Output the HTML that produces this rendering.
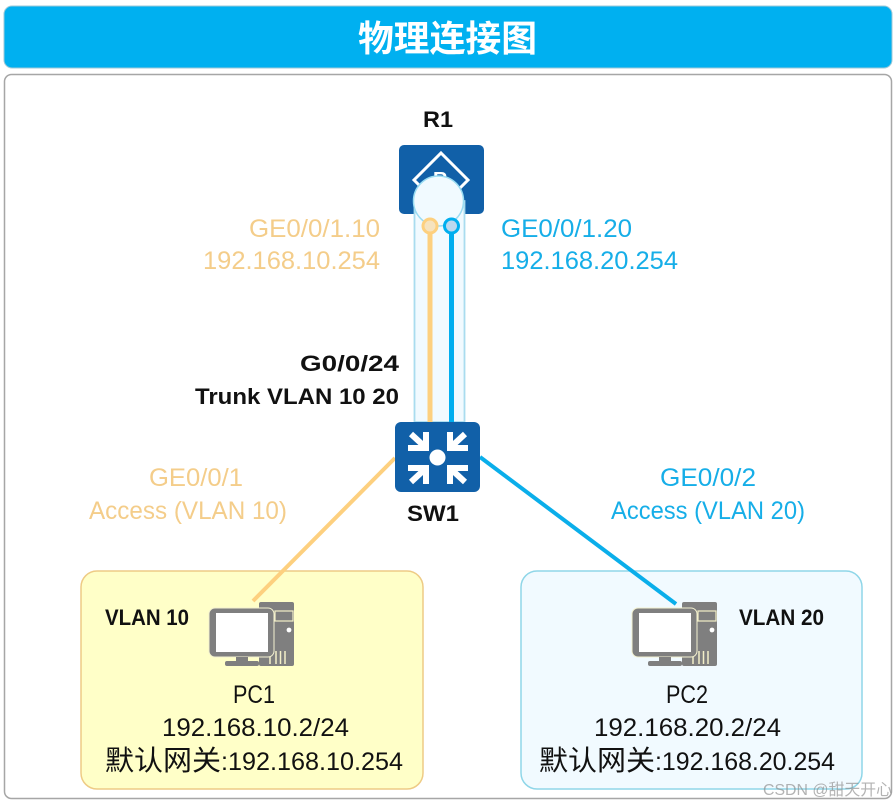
<!DOCTYPE html>
<html><head><meta charset="utf-8">
<style>
html,body{margin:0;padding:0;background:#fff}
svg{display:block}
text{font-family:"Liberation Sans","Noto Sans CJK SC",sans-serif}
.b{font-weight:700}
</style></head><body>
<svg width="896" height="804" viewBox="0 0 896 804" xmlns="http://www.w3.org/2000/svg">
<defs>
<g id="pc">
  <rect x="259" y="602" width="35" height="64" rx="2" fill="#7f7f7f"/>
  <rect x="275" y="611" width="18" height="10" fill="none" stroke="#f3efc8" stroke-width="1.2"/>
  <circle cx="289" cy="630" r="2.4" fill="#fff"/>
  <g stroke="#f3efc8" stroke-width="1.5"><path d="M270 654V664M276 651V664M280.500 651V664M285 651V664"/></g>
  <rect x="209" y="608" width="65" height="49" rx="6" fill="#7f7f7f" stroke="#f3f1d0" stroke-width="1"/>
  <rect x="216" y="613" width="52" height="39" fill="#fff"/>
  <rect x="236" y="657" width="12" height="5" fill="#7f7f7f"/>
  <rect x="225" y="661" width="34" height="5" rx="2" fill="#7f7f7f"/>
</g>
<g id="arr" fill="none" stroke="#fff" stroke-width="6">
  <path d="M-30 -10H-12V-26"/><path d="M-27 -24L-14 -12"/>
</g>
</defs>

<rect x="4" y="6" width="888" height="62" rx="8" fill="#00b0f0" stroke="#9ec9d8" stroke-width="1"/>
<text x="358" y="51" font-size="36" class="b" fill="#fff" textLength="179" lengthAdjust="spacingAndGlyphs">物理连接图</text>
<rect x="4.5" y="74.500" width="887" height="724" rx="7" fill="#fff" stroke="#a6a6a6" stroke-width="1.5"/>

<rect x="81" y="571" width="342" height="218" rx="16" fill="#ffffc8" stroke="#eecb85" stroke-width="1.5"/>
<rect x="521" y="571" width="341" height="218" rx="16" fill="#f1faff" stroke="#8fd6e8" stroke-width="1.5"/>

<!-- router -->
<rect x="399" y="145" width="85" height="69" rx="5" fill="#1160a8"/>
<path d="M441 153L468 180L441 207L414 180Z" fill="none" stroke="#fff" stroke-width="3"/>
<text x="433" y="186" font-size="20" class="b" fill="#fff">R</text>

<!-- tube -->
<path d="M414.500 422V201H464.500V422Z" fill="#f1faff" stroke="#a9dcef" stroke-width="1.8"/>
<circle cx="438.500" cy="201" r="25" fill="#f1faff" stroke="#9adcf2" stroke-width="1.5"/>
<rect x="427.500" y="226" width="5" height="197" fill="#fdd07f"/>
<rect x="449" y="226" width="5" height="197" fill="#00aeef"/>
<circle cx="430" cy="226" r="7" fill="#f6e3bf" stroke="#fdd07f" stroke-width="3"/>
<circle cx="451.500" cy="226" r="7" fill="#bcd8ef" stroke="#00aeef" stroke-width="3"/>

<!-- links -->
<line x1="395" y1="458" x2="253" y2="601" stroke="#fdd07f" stroke-width="4"/>
<line x1="480" y1="457" x2="676" y2="604" stroke="#0aaeea" stroke-width="4"/>

<!-- switch -->
<rect x="395" y="422" width="85" height="70" rx="6" fill="#1160a8"/>
<circle cx="437.500" cy="457.500" r="8" fill="#fff"/>
<use href="#arr" transform="translate(438 458)"/>
<use href="#arr" transform="translate(438 458) scale(-1 1)"/>
<use href="#arr" transform="translate(438 458) scale(1 -1)"/>
<use href="#arr" transform="translate(438 458) scale(-1 -1)"/>

<use href="#pc"/>
<use href="#pc" x="423"/>

<!-- labels -->
<g font-size="25">
<text x="423" y="127" font-size="22" class="b" fill="#111" textLength="30" lengthAdjust="spacingAndGlyphs">R1</text>
<g fill="#f4cd8a">
<text x="249" y="237" textLength="131" lengthAdjust="spacingAndGlyphs">GE0/0/1.10</text>
<text x="203" y="269" textLength="177" lengthAdjust="spacingAndGlyphs">192.168.10.254</text>
<text x="149" y="486" textLength="94" lengthAdjust="spacingAndGlyphs">GE0/0/1</text>
<text x="89" y="519" textLength="198" lengthAdjust="spacingAndGlyphs">Access (VLAN 10)</text>
</g>
<g fill="#16aee8">
<text x="501" y="237" textLength="131" lengthAdjust="spacingAndGlyphs">GE0/0/1.20</text>
<text x="501" y="269" textLength="177" lengthAdjust="spacingAndGlyphs">192.168.20.254</text>
<text x="660" y="486" textLength="96" lengthAdjust="spacingAndGlyphs">GE0/0/2</text>
<text x="611" y="519" textLength="194" lengthAdjust="spacingAndGlyphs">Access (VLAN 20)</text>
</g>
<g class="b" fill="#111" font-size="22">
<text x="300" y="371" textLength="99" lengthAdjust="spacingAndGlyphs">G0/0/24</text>
<text x="195" y="404" textLength="204" lengthAdjust="spacingAndGlyphs">Trunk VLAN 10 20</text>
<text x="407" y="521" textLength="52" lengthAdjust="spacingAndGlyphs">SW1</text>
<text x="105" y="625" textLength="84" lengthAdjust="spacingAndGlyphs">VLAN 10</text>
<text x="739" y="625" textLength="85" lengthAdjust="spacingAndGlyphs">VLAN 20</text>
</g>
<g fill="#111">
<text x="233" y="703" textLength="42" lengthAdjust="spacingAndGlyphs">PC1</text>
<text x="162" y="736" textLength="187" lengthAdjust="spacingAndGlyphs">192.168.10.2/24</text>
<text x="105" y="770" font-size="28" textLength="116" lengthAdjust="spacingAndGlyphs">默认网关</text>
<text x="221" y="770" textLength="182" lengthAdjust="spacingAndGlyphs">:192.168.10.254</text>
<text x="666" y="703" textLength="42" lengthAdjust="spacingAndGlyphs">PC2</text>
<text x="594" y="736" textLength="187" lengthAdjust="spacingAndGlyphs">192.168.20.2/24</text>
<text x="539" y="770" font-size="28" textLength="116" lengthAdjust="spacingAndGlyphs">默认网关</text>
<text x="655" y="770" textLength="180" lengthAdjust="spacingAndGlyphs">:192.168.20.254</text>
</g>
</g>
<text x="763" y="795" font-size="16" fill="#8a8a8a" fill-opacity="0.65" textLength="129" lengthAdjust="spacingAndGlyphs">CSDN @甜天开心</text>
</svg>
</body></html>
